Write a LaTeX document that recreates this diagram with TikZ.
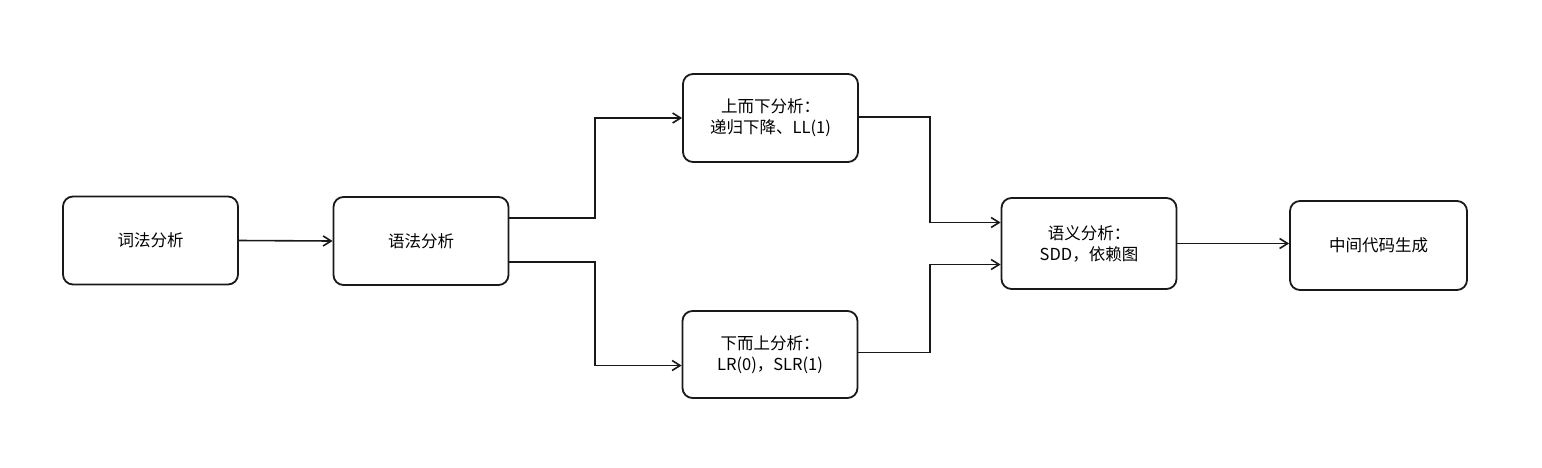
\documentclass[tikz,border=0pt]{standalone}
\usepackage{fontspec}
\setmainfont{Noto Sans CJK SC}
\usetikzlibrary{arrows.meta}
\begin{document}
\begin{tikzpicture}[x=1pt,y=-1pt,
  stagebox/.style={draw=black!90, line width=1.8pt, rounded corners=10pt,
    minimum width=175pt, minimum height=88pt, align=center,
    font=\fontsize{16.5}{21}\selectfont, inner sep=2pt},
  conn/.style={draw=black!90, line width=1.6pt,
    -{Straight Barb[length=8pt,width=10pt,line width=1.6pt]}}]
\useasboundingbox (0,0) rectangle (1542,467);
\node[stagebox] (lex) at (150.5,240.5) {词法分析};
\node[stagebox] (syn) at (421,241) {语法分析};
\node[stagebox] (td) at (770.5,118) {上而下分析：\\递归下降、LL(1)};
\node[stagebox, minimum height=87pt] (bu) at (770,354.5) {下而上分析：\\LR(0)，SLR(1)};
\node[stagebox, minimum height=91pt] (sem) at (1089,243.5) {语义分析：\\SDD，依赖图};
\node[stagebox, minimum width=177pt, minimum height=89pt] (ir) at (1378.5,245.5) {中间代码生成};
\coordinate (synA) at ([yshift=23pt]syn.east);
\coordinate (synB) at ([yshift=-21pt]syn.east);
\coordinate (buIn) at ([yshift=-11pt]bu.west);
\coordinate (tdOut) at ([yshift=1pt]td.east);
\coordinate (buOut) at ([yshift=2pt]bu.east);
\coordinate (semA) at ([yshift=21pt]sem.west);
\coordinate (semB) at ([yshift=-21pt]sem.west);
\coordinate (bj) at (595,0);
\coordinate (ej) at (930,0);
\draw[conn] (lex.east) -- (syn.west);
\draw[conn] (synA) -| (bj |- td.west) -- (td.west);
\draw[conn] (synB) -| (bj |- buIn) -- (buIn);
\draw[conn] (tdOut) -| (ej |- semA) -- (semA);
\draw[conn] (buOut) -| (ej |- semB) -- (semB);
\draw[conn] (sem.east) -- (sem.east -| ir.west);
\end{tikzpicture}
\end{document}
